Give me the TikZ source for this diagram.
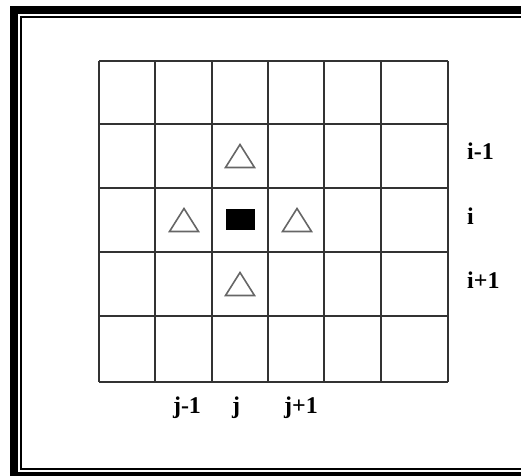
\documentclass[tikz,border=0pt]{standalone}
\usepackage{fontspec}
\setmainfont{Liberation Serif}

\begin{document}
\begin{tikzpicture}[x=1pt, y=-1pt,
    gridline/.style={black!80, line width=1.3pt},
    stencil/.style={draw=black!60, line width=1.6pt, line join=miter, fill=white},
    lbl/.style={font=\fontsize{24}{28}\selectfont\bfseries, inner sep=0pt}]
        \useasboundingbox (0,0) rectangle (521,475);
        \clip (0,0) rectangle (521,475);
        \fill[white] (0,0) rectangle (521,475);
        % double frame, cut off at right and bottom
        \draw[line width=8pt] (14,10) rectangle (540,476);
        \draw[line width=2pt] (21,17) rectangle (532,468.5);
        % grid
        \foreach \gx in {99,155,212,268,324,381,448}
            \draw[gridline] (\gx,61) -- (\gx,382);
        \foreach \gy in {61,124,188,252,316,382}
            \draw[gridline] (99,\gy) -- (448,\gy);
        % neighbours and centre point
        \foreach \cx/\cy in {240/156, 184/220, 297/220, 240/284}
            \draw[stencil] (\cx-14.5,\cy+11.5) -- (\cx,\cy-11.5) -- (\cx+14.5,\cy+11.5) -- cycle;
        \fill[black] (226,209) rectangle (255,230);
        % indices
        \node[lbl, anchor=base] (jm) at (187,413) {j-1};
        \node[lbl, anchor=base] (j) at (236,413) {j};
        \node[lbl, anchor=base] (jp) at (301,413) {j+1};
        \node[lbl, anchor=base west] (im) at (467,159) {i-1};
        \node[lbl, anchor=base west] (i) at (467,224) {i};
        \node[lbl, anchor=base west] (ip) at (467,288) {i+1};
\end{tikzpicture}
\end{document}
